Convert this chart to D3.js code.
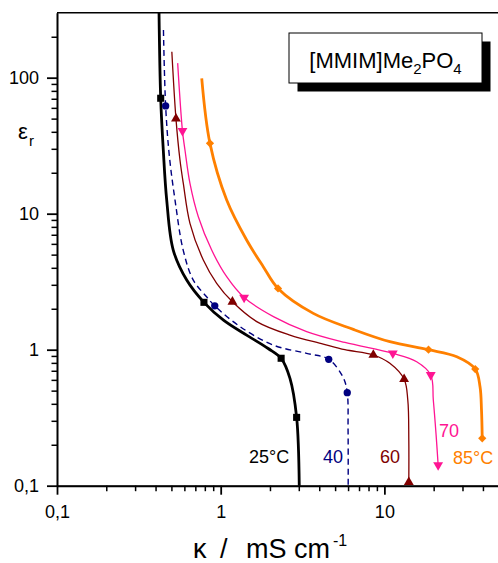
<!DOCTYPE html>
<html>
<head>
<meta charset="utf-8">
<script src="https://cdn.jsdelivr.net/npm/d3@7"></script>
<style>
  body { margin: 0; background: #fff; }
  svg { font-family: "Liberation Sans", Arial, sans-serif; }
</style>
</head>
<body>
<svg width="498" height="563"></svg>
<script>
// точки кривых: [κ, ε_r]
const curve25 = [[0.42,300],[0.43,70.6],[0.446,29.4],[0.468,12.6],[0.513,5.4],[0.62,3.25],[0.79,2.23],[1.04,1.65],[1.44,1.28],[1.95,1.02],[2.34,0.865],[2.65,0.616],[2.91,0.318],[3.02,0.1]];
const marks25 = [[0.43,70.6],[0.79,2.23],[2.34,0.865],[2.91,0.318]];

const curve40 = [[0.447,224],[0.461,62],[0.485,27],[0.526,12.6],[0.59,5.4],[0.68,3.25],[0.82,2.45],[0.92,2.1],[1.31,1.48],[2.1,1.08],[3.35,0.94],[4.57,0.85],[5.6,0.625],[5.93,0.483],[6.0,0.257],[6.01,0.1]];
const marks40 = [[0.461,62],[0.92,2.1],[4.57,0.85],[5.93,0.483]];

const curve60 = [[0.503,155],[0.533,50],[0.564,24.8],[0.591,16.7],[0.649,8.5],[0.783,4.57],[0.945,3.08],[1.18,2.25],[1.66,1.61],[2.65,1.28],[4.23,1.1],[5.74,1.0],[8.56,0.914],[10.8,0.794],[13.2,0.606],[13.9,0.427],[14.1,0.217],[14.1,0.106]];
const marks60 = [[0.533,50],[1.18,2.25],[8.56,0.914],[13.2,0.606],[14.1,0.106]];

const curve70 = [[0.546,128],[0.584,40.6],[0.605,29.4],[0.649,16.7],[0.73,9.5],[0.881,5.4],[1.088,3.44],[1.39,2.42],[2.1,1.75],[3.35,1.36],[5.74,1.13],[11.26,0.94],[15.75,0.816],[19.2,0.652],[19.9,0.427],[20.7,0.236],[21.3,0.142]];
const marks70 = [[0.584,40.6],[1.39,2.42],[11.26,0.94],[19.2,0.652],[21.3,0.142]];

const curve85 = [[0.766,99],[0.86,32.9],[1.088,12.6],[1.44,6.4],[1.82,4.08],[2.24,2.82],[3.68,1.85],[6.46,1.41],[10.8,1.145],[18.6,1.0],[27.7,0.888],[35.9,0.721],[38.4,0.534],[39.2,0.36],[39.6,0.223]];
const marks85 = [[0.86,32.9],[2.24,2.82],[18.6,1.0],[35.9,0.721],[39.6,0.223]];

const seriesNames = ["25°C", "40", "60", "70", "85°C"];
const xTickValues = [0.1, 1, 10];
const xTickLabels = ["0,1", "1", "10"];
const yTickValues = [0.1, 1, 10, 100];
const yTickLabels = ["0,1", "1", "10", "100"];

const svg = d3.select("svg");
const x = d3.scaleLog().domain([0.1, 50]).range([57, 498.8]);
const y = d3.scaleLog().domain([0.1, 300]).range([485.7, 12.8]);

// мелкие деления: 2..9 в каждой декаде
function minors(lo, hi) {
    let m = [];
    for (let d = lo; d < hi; d *= 10)
        for (let k = 2; k <= 9; k++)
            if (d * k < hi) m.push(d * k);
    return m;
}

// оси
const gx = svg.append("g").attr("transform", "translate(0,485.7)");
gx.call(d3.axisBottom(x).tickValues(minors(0.1, 50)).tickSize(5.5).tickSizeOuter(0).tickFormat(""));
gx.call(g => g.selectAll(".tick line").attr("stroke-width", 1.5));
const gx2 = svg.append("g").attr("transform", "translate(0,485.7)");
gx2.call(d3.axisBottom(x).tickValues(xTickValues).tickSize(9).tickPadding(11).tickSizeOuter(0)
    .tickFormat((d, i) => xTickLabels[i]));
gx2.select(".domain").attr("stroke-width", 2);
gx2.selectAll(".tick line").attr("stroke-width", 1.8);
gx2.selectAll("text").attr("font-size", 18).attr("font-family", null).attr("fill", "#000");

const gy = svg.append("g").attr("transform", "translate(57,0)");
gy.call(d3.axisLeft(y).tickValues(minors(0.1, 300)).tickSize(5.5).tickSizeOuter(0).tickFormat(""));
gy.call(g => g.selectAll(".tick line").attr("stroke-width", 1.5));
const gy2 = svg.append("g").attr("transform", "translate(57,0)");
gy2.call(d3.axisLeft(y).tickValues(yTickValues).tickSize(10).tickPadding(8).tickSizeOuter(0)
    .tickFormat((d, i) => yTickLabels[i]));
gy2.select(".domain").attr("stroke-width", 2);
gy2.selectAll(".tick line").attr("stroke-width", 1.8);
gy2.selectAll("text").attr("font-size", 18).attr("font-family", null).attr("fill", "#000");

// верхняя рамка
svg.append("line").attr("x1", 57).attr("x2", 498).attr("y1", 12.8).attr("y2", 12.8)
    .attr("stroke", "#000").attr("stroke-width", 1.4);

// кривые
const line = d3.line()
    .x(d => x(d[0]))
    .y(d => y(d[1]))
    .curve(d3.curveCatmullRom.alpha(0.5));

const series = [
    {pts: curve25, marks: marks25, color: "#000000", w: 2.8, dash: null, sym: d3.symbolSquare, size: 50, rot: 0},
    {pts: curve40, marks: marks40, color: "#000080", w: 1.4, dash: "6,4", sym: d3.symbolCircle, size: 42, rot: 0},
    {pts: curve60, marks: marks60, color: "#800000", w: 1.3, dash: null, sym: d3.symbolTriangle, size: 42, rot: 0},
    {pts: curve70, marks: marks70, color: "#ff1493", w: 1.3, dash: null, sym: d3.symbolTriangle, size: 42, rot: 180},
    {pts: curve85, marks: marks85, color: "#ff8000", w: 2.8, dash: null, sym: d3.symbolSquare, size: 34, rot: 45}
];

series.forEach(s => {
    svg.append("path")
        .attr("d", line(s.pts))
        .attr("fill", "none")
        .attr("stroke", s.color)
        .attr("stroke-width", s.w)
        .attr("stroke-dasharray", s.dash);
    svg.selectAll(null).data(s.marks).enter().append("path")
        .attr("d", d3.symbol().type(s.sym).size(s.size))
        .attr("transform", d => `translate(${x(d[0])},${y(d[1])}) rotate(${s.rot})`)
        .attr("fill", s.color);
});

// подписи кривых
const labelPos = [[249, 463], [323, 463], [380, 463], [439, 437], [453, 464]];
seriesNames.forEach((t, i) => {
    svg.append("text").attr("x", labelPos[i][0]).attr("y", labelPos[i][1])
        .attr("font-size", 18).attr("fill", series[i].color).text(t);
});

// рамка с названием
svg.append("rect").attr("x", 297.5).attr("y", 41.5).attr("width", 193).attr("height", 50).attr("fill", "#000");
svg.append("rect").attr("x", 289).attr("y", 33).attr("width", 193).attr("height", 50)
    .attr("fill", "#fff").attr("stroke", "#000").attr("stroke-width", 1);
const title = svg.append("text").attr("x", 385.5).attr("y", 67.7).attr("text-anchor", "middle").attr("font-size", 22);
title.append("tspan").text("[MMIM]Me");
title.append("tspan").attr("font-size", 15).attr("dy", 6).text("2");
title.append("tspan").attr("dy", -6).text("PO");
title.append("tspan").attr("font-size", 15).attr("dy", 6).text("4");

// подписи осей
const xt = svg.append("text").attr("y", 558).attr("font-size", 27);
xt.append("tspan").attr("x", 193).text("κ");
xt.append("tspan").attr("x", 220).text("/");
xt.append("tspan").attr("x", 246).text("mS cm");
xt.append("tspan").attr("x", 333).attr("y", 546).attr("font-size", 16).text("-1");

const yt = svg.append("text").attr("y", 138.5).attr("font-size", 22);
yt.append("tspan").attr("x", 18).text("ε");
yt.append("tspan").attr("x", 29).attr("y", 146).attr("font-size", 15).text("r");
</script>
</body>
</html>
